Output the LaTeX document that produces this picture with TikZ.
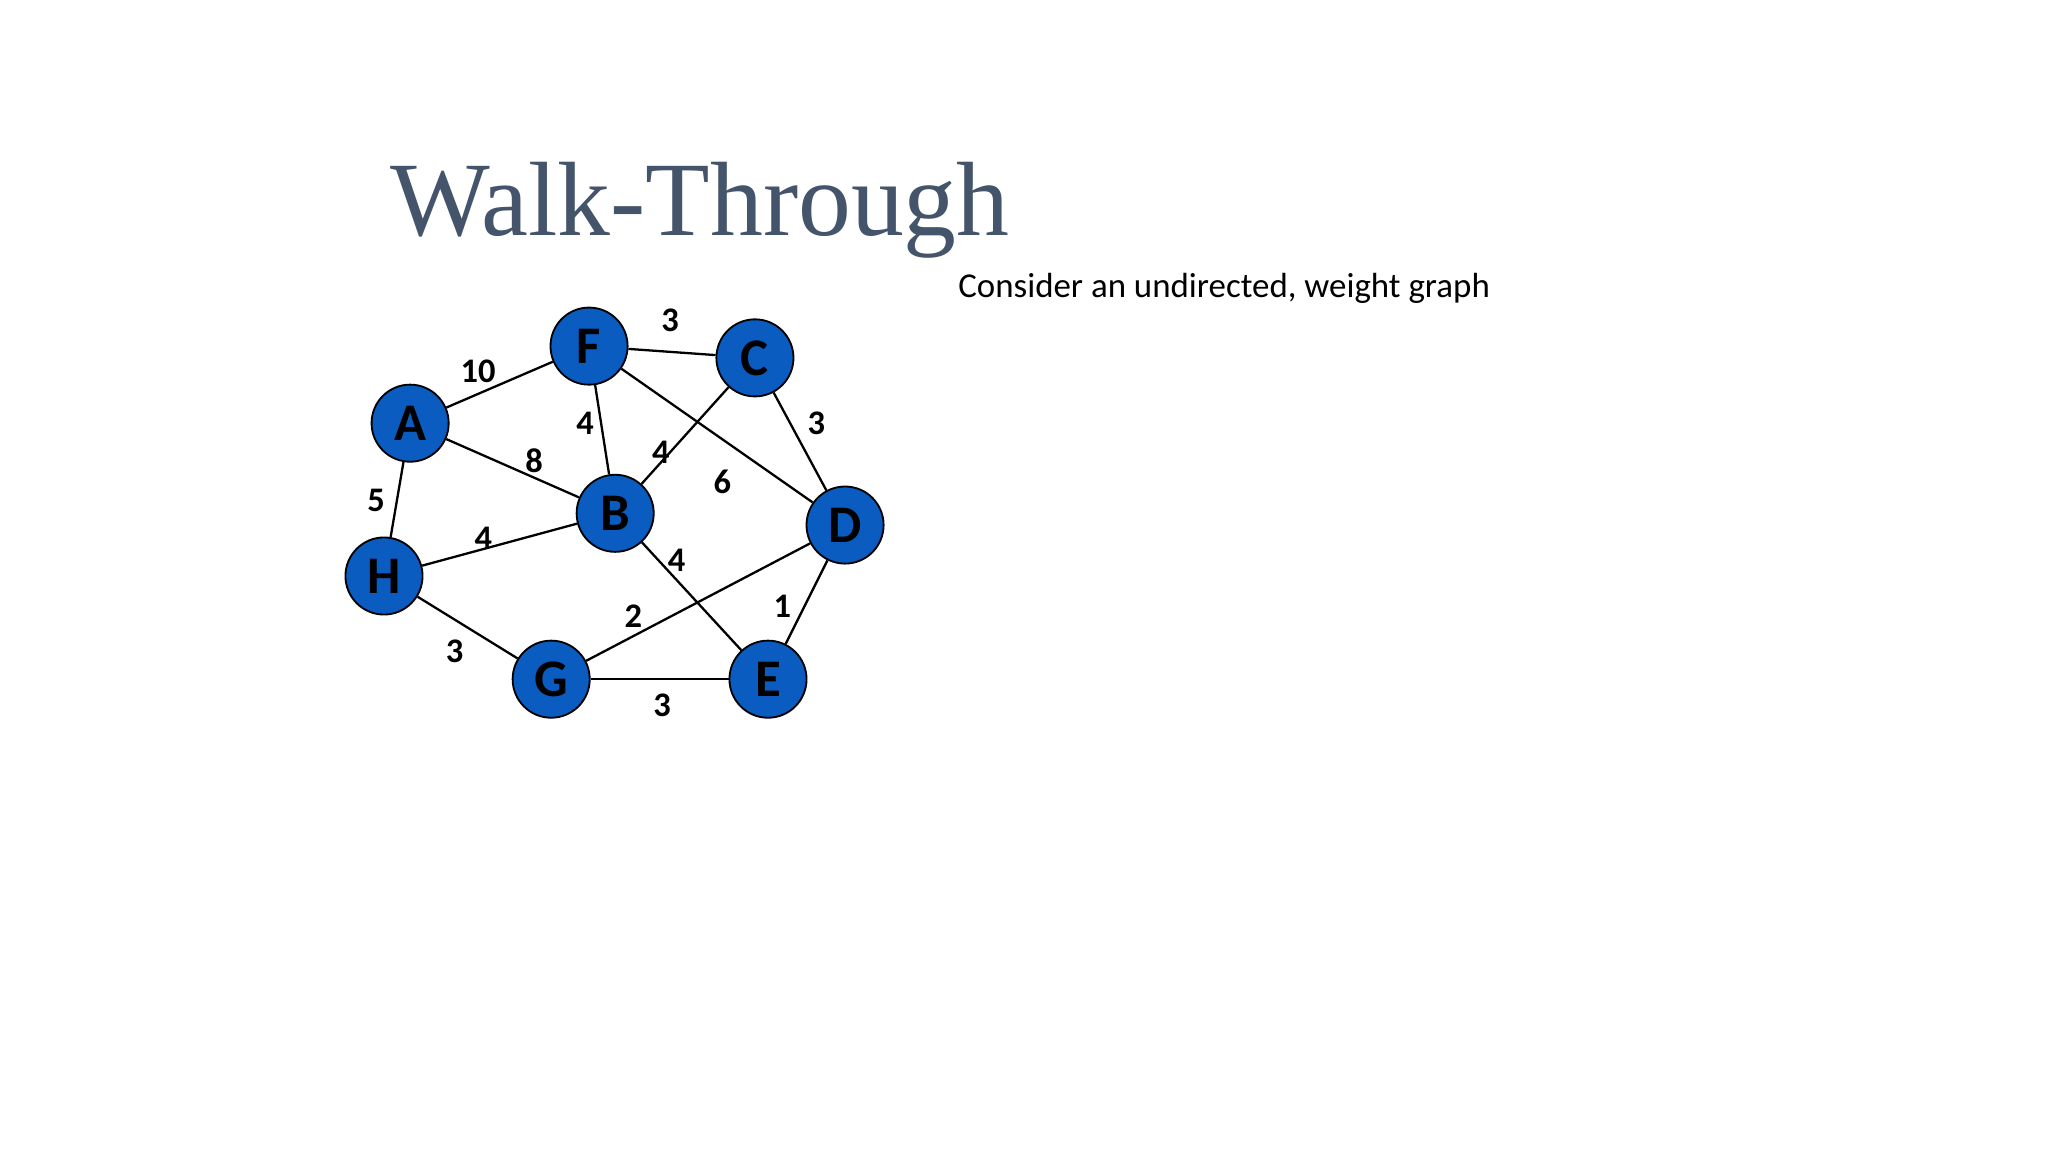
\documentclass[tikz,border=0pt]{standalone}
\usepackage{fontspec}
\setmainfont{Carlito}
\newfontfamily\titlefont{Liberation Serif}
\definecolor{nodeblue}{RGB}{10,92,192}
\definecolor{titlecol}{RGB}{68,84,106}
\begin{document}
\begin{tikzpicture}[x=0.01cm,y=-0.01cm,
  vert/.style={circle,draw=black,fill=nodeblue,minimum size=0.59cm,inner sep=0pt,font=\fontsize{11.5}{12}\selectfont\bfseries},
  wt/.style={font=\fontsize{7.5}{8}\selectfont\bfseries},
  edge/.style={draw=black,line width=0.5pt}]
\useasboundingbox (0,0) rectangle (1568,882);
\fill[white] (0,0) rectangle (1568,882);
\node[anchor=base west,text=titlecol,font=\titlefont\fontsize{23}{26}\selectfont,inner sep=0pt] (title) at (298,180) {Walk-Through};
\node[anchor=base west,font=\fontsize{7.6}{9}\selectfont,inner sep=0pt] (txt) at (733,228) {Consider an undirected, weight graph};
\node[vert] (F) at (451,265) {F};
\node[vert] (C) at (578,274) {C};
\node[vert] (A) at (314,324) {A};
\node[vert] (B) at (471,393) {B};
\node[vert] (D) at (647,402) {D};
\node[vert] (H) at (294,441) {H};
\node[vert] (G) at (422,520) {G};
\node[vert] (E) at (588,520) {E};
\begin{scope}[on background layer/.style={}]
\end{scope}
\foreach \a/\b in {A/F,F/C,F/B,F/D,C/B,C/D,A/B,A/H,H/B,H/G,B/E,G/D,G/E,D/E}
  \draw[edge] (\a) -- (\b);
\node[wt] (w1) at (513,245) {3};
\node[wt] (w2) at (366,284) {10};
\node[wt] (w3) at (448,324) {4};
\node[wt] (w4) at (625,324) {3};
\node[wt] (w5) at (409,353) {8};
\node[wt] (w6) at (506,346) {4};
\node[wt] (w7) at (553,369) {6};
\node[wt] (w8) at (288,383) {5};
\node[wt] (w9) at (370,412) {4};
\node[wt] (w10) at (518,429) {4};
\node[wt] (w11) at (599,464) {1};
\node[wt] (w12) at (485,472) {2};
\node[wt] (w13) at (348,499) {3};
\node[wt] (w14) at (507,540) {3};
\end{tikzpicture}
\end{document}
